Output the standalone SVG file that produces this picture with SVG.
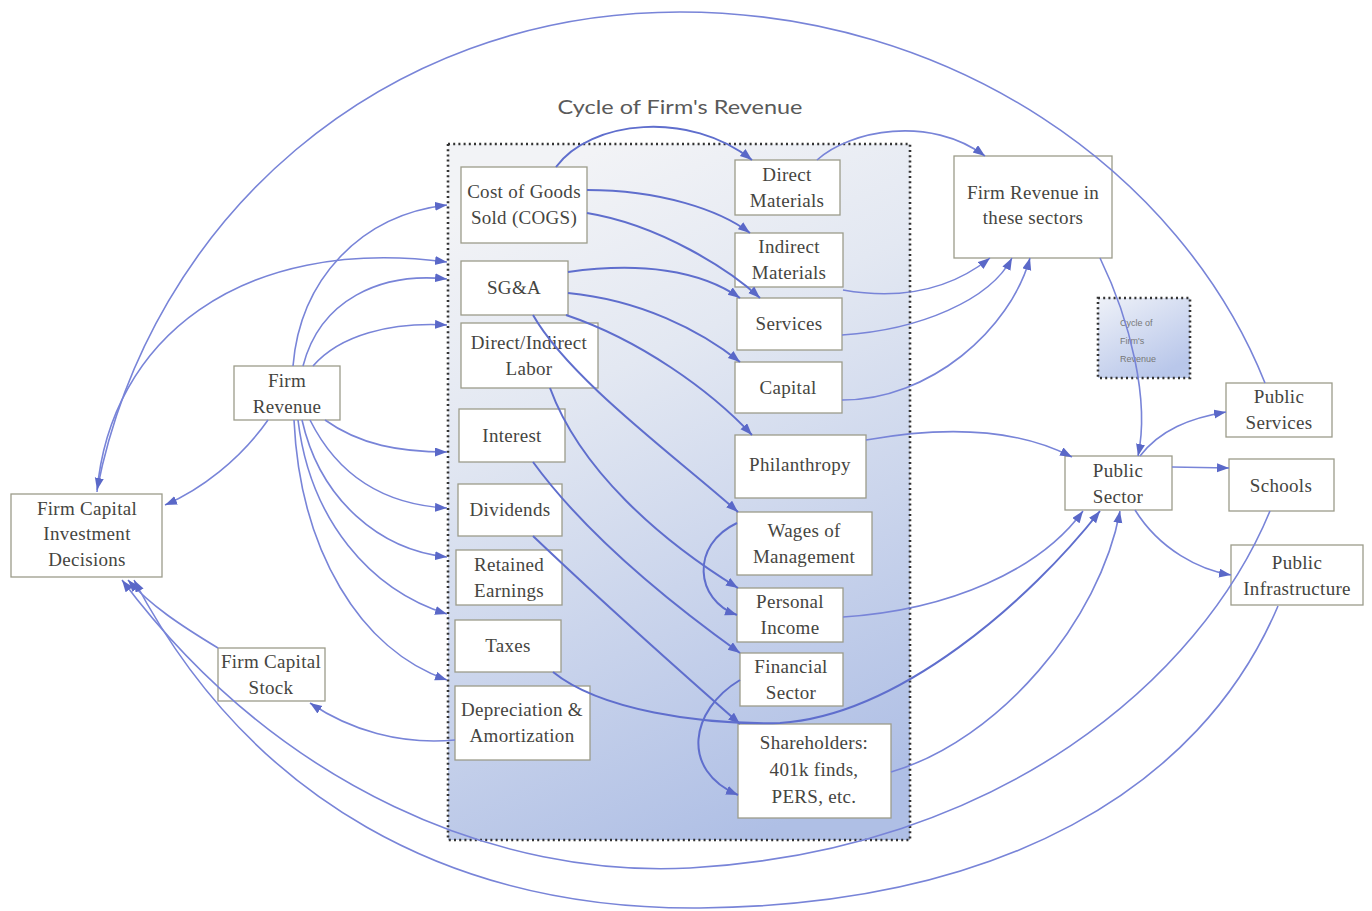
<svg xmlns="http://www.w3.org/2000/svg" width="1372" height="911" viewBox="0 0 1372 911">
<defs>
<linearGradient id="bigGrad" x1="0.35" y1="0" x2="0.65" y2="1">
<stop offset="0" stop-color="#f2f3f6"/>
<stop offset="0.3" stop-color="#e3e8f2"/>
<stop offset="1" stop-color="#afbfe5"/>
</linearGradient>
<linearGradient id="smallGrad" x1="0" y1="0" x2="0.6" y2="1">
<stop offset="0" stop-color="#eef1f8"/>
<stop offset="1" stop-color="#b9c7ea"/>
</linearGradient>
<marker id="arr" markerWidth="13" markerHeight="10" refX="12" refY="4.5" orient="auto" markerUnits="userSpaceOnUse">
<path d="M0,0 L12,4.5 L0,9 z" fill="#5a68c8"/>
</marker>
<style>
.node rect{fill:#ffffff;stroke:#9c9c8a;stroke-width:1.3}
.node text{font-family:"Liberation Serif","Times New Roman",serif;font-size:19px;letter-spacing:0.3px;fill:#45453f;text-anchor:middle}
.cn path{fill:none;stroke:#7884d8;stroke-width:1.6;marker-end:url(#arr)}
.cn path.in{stroke:#5f6ecd;stroke-width:2}
.dotted{stroke:#333;stroke-width:2.6;stroke-dasharray:2 3.2}
</style>
</defs>
<rect width="1372" height="911" fill="#ffffff"/>

<g id="cycle-box">
<rect x="448" y="144" width="462" height="696" fill="url(#bigGrad)" class="dotted"/>
<text x="680" y="114" font-family="Lato,'Liberation Sans',sans-serif" font-size="20" fill="#5a5a5a" text-anchor="middle" textLength="245" lengthAdjust="spacingAndGlyphs">Cycle of Firm's Revenue</text>
</g>

<g id="cycle-small">
<rect x="1098" y="298" width="92" height="80" fill="url(#smallGrad)" class="dotted"/>
<text font-family="'Liberation Sans',sans-serif" font-size="9" fill="#777"><tspan x="1120" y="326">Cycle of</tspan><tspan x="1120" y="344">Firm's</tspan><tspan x="1120" y="362">Revenue</tspan></text>
</g>

<g id="cogs" class="node"><rect x="461" y="167" width="126" height="76"/><text x="524" y="198">Cost of Goods</text><text x="524" y="224">Sold (COGS)</text></g>
<g id="sga" class="node"><rect x="461" y="261" width="107" height="54"/><text x="514" y="294">SG&amp;A</text></g>
<g id="labor" class="node"><rect x="461" y="323" width="137" height="65"/><text x="529" y="349">Direct/Indirect</text><text x="529" y="375">Labor</text></g>
<g id="interest" class="node"><rect x="459" y="409" width="106" height="53"/><text x="512" y="442">Interest</text></g>
<g id="dividends" class="node"><rect x="458" y="484" width="104" height="52"/><text x="510" y="516">Dividends</text></g>
<g id="retained" class="node"><rect x="456" y="550" width="106" height="55"/><text x="509" y="571">Retained</text><text x="509" y="597">Earnings</text></g>
<g id="taxes" class="node"><rect x="455" y="620" width="106" height="52"/><text x="508" y="652">Taxes</text></g>
<g id="depreciation" class="node"><rect x="455" y="686" width="135" height="74"/><text x="522" y="716">Depreciation &amp;</text><text x="522" y="742">Amortization</text></g>

<g id="direct-materials" class="node"><rect x="735" y="160" width="105" height="55"/><text x="787" y="181">Direct</text><text x="787" y="207">Materials</text></g>
<g id="indirect-materials" class="node"><rect x="735" y="233" width="108" height="54"/><text x="789" y="253">Indirect</text><text x="789" y="279">Materials</text></g>
<g id="services" class="node"><rect x="737" y="298" width="105" height="52"/><text x="789" y="330">Services</text></g>
<g id="capital" class="node"><rect x="735" y="362" width="107" height="51"/><text x="788" y="394">Capital</text></g>
<g id="philanthropy" class="node"><rect x="735" y="435" width="131" height="63"/><text x="800" y="471">Philanthropy</text></g>
<g id="wages" class="node"><rect x="737" y="512" width="135" height="63"/><text x="804" y="537">Wages of</text><text x="804" y="563">Management</text></g>
<g id="personal-income" class="node"><rect x="737" y="588" width="106" height="54"/><text x="790" y="608">Personal</text><text x="790" y="634">Income</text></g>
<g id="financial-sector" class="node"><rect x="740" y="653" width="103" height="53"/><text x="791" y="673">Financial</text><text x="791" y="699">Sector</text></g>
<g id="shareholders" class="node"><rect x="738" y="724" width="153" height="94"/><text x="814" y="749">Shareholders:</text><text x="814" y="776">401k finds,</text><text x="814" y="803">PERS, etc.</text></g>

<g id="firm-revenue-sectors" class="node"><rect x="954" y="156" width="158" height="102"/><text x="1033" y="199">Firm Revenue in</text><text x="1033" y="224">these sectors</text></g>
<g id="public-sector" class="node"><rect x="1065" y="456" width="107" height="54"/><text x="1118" y="477">Public</text><text x="1118" y="503">Sector</text></g>
<g id="public-services" class="node"><rect x="1226" y="383" width="106" height="54"/><text x="1279" y="403">Public</text><text x="1279" y="429">Services</text></g>
<g id="schools" class="node"><rect x="1229" y="459" width="105" height="52"/><text x="1281" y="492">Schools</text></g>
<g id="public-infrastructure" class="node"><rect x="1231" y="545" width="132" height="60"/><text x="1297" y="569">Public</text><text x="1297" y="595">Infrastructure</text></g>

<g id="firm-revenue" class="node"><rect x="234" y="366" width="106" height="54"/><text x="287" y="387">Firm</text><text x="287" y="413">Revenue</text></g>
<g id="firm-capital-investment" class="node"><rect x="11" y="494" width="151" height="83"/><text x="87" y="515">Firm Capital</text><text x="87" y="540">Investment</text><text x="87" y="566">Decisions</text></g>
<g id="firm-capital-stock" class="node"><rect x="218" y="648" width="107" height="53"/><text x="271" y="668">Firm Capital</text><text x="271" y="694">Stock</text></g>

<g id="connectors" class="cn">
<path d="M293,366 C300,280 360,215 447,205"/>
<path d="M303,366 C320,300 380,272 447,279"/>
<path d="M313,366 C340,335 390,322 447,325"/>
<path d="M97,492 C110,340 240,235 447,262"/>
<path d="M1265,383 C1180,170 950,12 680,12 C380,12 150,220 97,490"/>
<path d="M268,420 C240,460 200,490 165,505"/>
<path d="M325,420 C360,445 400,452 447,452"/>
<path d="M310,420 C340,480 390,505 447,508"/>
<path d="M302,420 C320,500 380,550 447,557"/>
<path d="M298,420 C310,520 370,590 447,614"/>
<path d="M294,420 C300,550 360,650 447,680"/>
<path d="M455,740 C400,745 350,730 310,703"/>
<path d="M218,648 C180,625 150,605 128,580"/>
<path d="M1270,511 C1200,680 1000,850 690,868 C500,878 280,790 122,580"/>
<path d="M1278,606 C1200,790 1000,905 700,908 C450,910 250,800 134,580"/>
<path class="in" d="M556,167 C590,120 690,110 752,160"/>
<path d="M817,160 C850,130 930,115 985,156"/>
<path class="in" d="M587,190 C660,190 720,210 750,233"/>
<path class="in" d="M587,213 C660,225 730,270 760,298"/>
<path class="in" d="M568,272 C640,262 700,270 740,298"/>
<path class="in" d="M568,293 C640,300 700,330 740,362"/>
<path class="in" d="M566,315 C640,340 710,390 752,435"/>
<path class="in" d="M533,315 C570,380 680,460 738,512"/>
<path class="in" d="M550,388 C580,470 660,540 738,588"/>
<path class="in" d="M737,523 C690,545 695,600 737,615"/>
<path class="in" d="M533,462 C590,540 680,610 740,653"/>
<path class="in" d="M533,536 C600,600 690,680 740,724"/>
<path class="in" d="M740,680 C690,710 680,770 738,795"/>
<path class="in" d="M553,672 C600,710 700,725 780,723 C900,715 1030,600 1100,511"/>
<path d="M843,617 C950,610 1040,570 1083,511"/>
<path d="M891,772 C1000,740 1100,620 1120,511"/>
<path d="M866,440 C950,425 1020,430 1072,457"/>
<path d="M843,290 C900,300 950,290 990,258"/>
<path d="M842,335 C920,330 990,300 1012,258"/>
<path d="M842,400 C930,400 1010,330 1030,258"/>
<path d="M1100,258 C1130,320 1150,400 1138,456"/>
<path d="M1140,456 C1160,430 1190,418 1226,412"/>
<path d="M1172,467 L1229,468"/>
<path d="M1135,510 C1160,550 1200,570 1231,575"/>
</g>
</svg>
